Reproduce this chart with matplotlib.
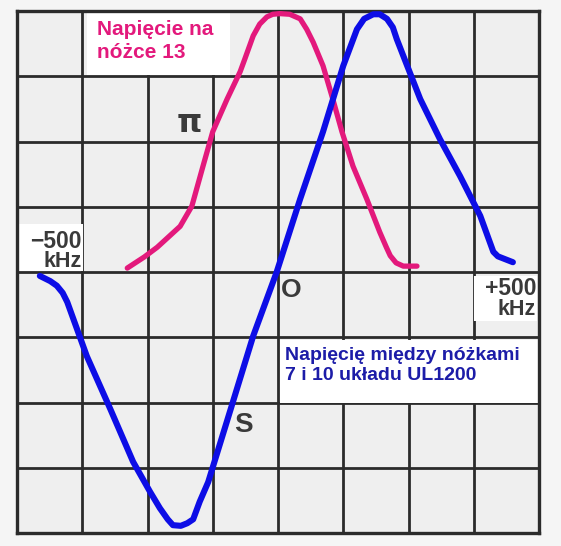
import matplotlib.pyplot as plt
from matplotlib.patches import Rectangle

# values, in grid divisions (8 x 8 grid, centre = 0)
pink_x = [-2.31, -2.05, -1.85, -1.50, -1.32, -1.15, -1.00, -0.78, -0.58, -0.51,
          -0.38, -0.28, -0.17, -0.08, 0.03, 0.18, 0.34, 0.44, 0.54, 0.69,
          0.84, 0.98, 1.15, 1.36, 1.56, 1.66, 1.72, 1.81, 1.92, 2.13]
pink_y = [0.06, 0.23, 0.38, 0.70, 1.01, 1.62, 2.15, 2.65, 3.07, 3.26,
          3.62, 3.80, 3.91, 3.95, 3.96, 3.95, 3.88, 3.72, 3.52, 3.16,
          2.65, 2.15, 1.62, 1.12, 0.61, 0.38, 0.25, 0.14, 0.09, 0.09]

blue_x = [-3.65, -3.49, -3.39, -3.30, -3.23, -2.93, -2.57, -2.22, -1.96, -1.81,
          -1.69, -1.61, -1.49, -1.39, -1.30, -1.20, -1.07, -0.74, -0.38, -0.02,
          0.34, 0.69, 1.00, 1.21, 1.32, 1.46, 1.56, 1.67, 1.76, 1.82,
          1.98, 2.18, 2.48, 2.79, 3.10, 3.30, 3.37, 3.60]
blue_y = [-0.06, -0.14, -0.21, -0.32, -0.46, -1.29, -2.10, -2.91, -3.37, -3.62,
          -3.79, -3.88, -3.89, -3.85, -3.79, -3.52, -3.22, -2.15, -0.98, 0.00,
          1.12, 2.15, 3.16, 3.72, 3.88, 3.95, 3.95, 3.88, 3.75, 3.57,
          3.16, 2.65, 2.04, 1.47, 0.86, 0.31, 0.24, 0.15]

pink_lines = ["Napięcie na", "nóżce 13"]
blue_lines = ["Napięcię między nóżkami", "7 i 10 układu UL1200"]

PINK = "#e3197c"
BLUE = "#0d0de6"
GRID = "#2b2b2b"
INK = "#3a3a3a"

W, H = 561, 546
X0, X1, Y0, Y1 = 17, 539, 11, 533   # grid box in pixels
CELL = (X1 - X0) / 8


def div(px, py):
    # pixel position in the picture -> grid divisions
    return (px - (X0 + X1) / 2) / CELL, ((Y0 + Y1) / 2 - py) / CELL


fig = plt.figure(figsize=(W / 100, H / 100), dpi=100)
fig.patch.set_facecolor("#f5f5f5")
ax = fig.add_axes([X0 / W, 1 - Y1 / H, (X1 - X0) / W, (Y1 - Y0) / H])
ax.set_facecolor("#efefef")
ax.set_xlim(-4, 4)
ax.set_ylim(-4, 4)
ax.set_xticks(range(-4, 5))
ax.set_yticks(range(-4, 5))
ax.tick_params(length=0, labelbottom=False, labelleft=False)
ax.grid(True, color=GRID, lw=2.0, zorder=1)
ax.set_axisbelow(True)
for s in ax.spines.values():
    s.set_color(GRID)
    s.set_linewidth(2.4)

# white label boxes over the grid
def box(px0, py0, px1, py1):
    (x0, y0), (x1, y1) = div(px0, py1), div(px1, py0)
    ax.add_patch(Rectangle((x0, y0), x1 - x0, y1 - y0, facecolor="white",
                           edgecolor="none", zorder=2))

box(87, 12, 230, 75)
box(280, 340, 538, 403)
box(19, 224, 83, 271)
box(474, 276, 537, 321)

ax.plot(pink_x, pink_y, color=PINK, lw=3.8, solid_capstyle="round",
        solid_joinstyle="round", zorder=4)
ax.plot(blue_x, blue_y, color=BLUE, lw=4.4, solid_capstyle="round",
        solid_joinstyle="round", zorder=5)

font = dict(family="Liberation Sans", weight="bold", zorder=6)
ax.text(*div(97, 35), pink_lines[0], color=PINK, fontsize=15, va="baseline", **font)
ax.text(*div(97, 58), pink_lines[1], color=PINK, fontsize=15, va="baseline", **font)
ax.text(*div(285, 360), blue_lines[0], color="#1c1ca8", fontsize=14, va="baseline", **font)
ax.text(*div(285, 380), blue_lines[1], color="#1c1ca8", fontsize=14, va="baseline", **font)

ax.text(*div(82, 248), "\u2212500", color=INK, fontsize=16.5, ha="right", va="baseline", **font)
ax.text(*div(82, 267), "kHz", color=INK, fontsize=15.5, ha="right", va="baseline", **font)
ax.text(*div(536, 295), "+500", color=INK, fontsize=16.5, ha="right", va="baseline", **font)
ax.text(*div(536, 315), "kHz", color=INK, fontsize=15.5, ha="right", va="baseline", **font)

ax.text(*div(291, 297), "O", color=INK, fontsize=19, ha="center", va="baseline", **font)
ax.text(*div(243, 432), "S", color=INK, fontsize=20, ha="center", va="baseline", **font)
ax.text(*div(189, 123), "π", color=INK, fontsize=23, ha="center", va="center",
        zorder=6, family="DejaVu Sans", weight="bold")

fig.savefig("out.png", dpi=100, facecolor=fig.get_facecolor())
